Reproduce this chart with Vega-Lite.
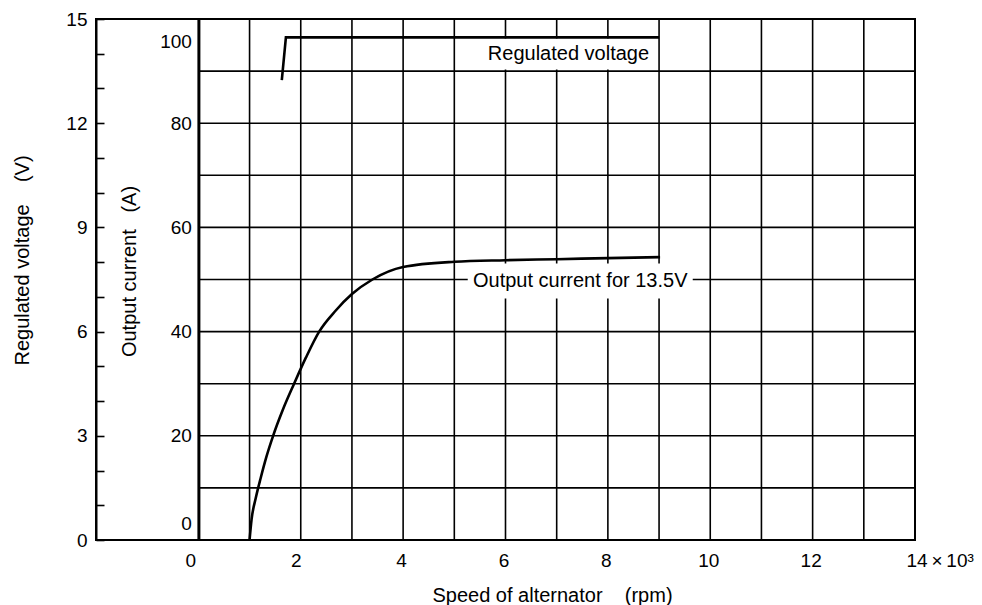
{
  "$schema": "https://vega.github.io/schema/vega-lite/v6.json",
  "width": 819,
  "height": 521,
  "autosize": {"type": "none"},
  "padding": {"left": 96, "top": 19, "right": 67, "bottom": 65},
  "background": "white",
  "config": {
    "view": {"stroke": "black", "strokeWidth": 2},
    "font": "Liberation Sans",
    "axis": {
      "labelFont": "Liberation Sans",
      "titleFont": "Liberation Sans",
      "labelFontSize": 19,
      "titleFontSize": 20,
      "titleFontWeight": "normal",
      "labelColor": "black",
      "titleColor": "black",
      "labelOverlap": false,
      "labelFlush": false,
      "grid": false
    }
  },
  "datasets": {
    "gridV": [
      {"rpm": 1}, {"rpm": 2}, {"rpm": 3}, {"rpm": 4}, {"rpm": 5}, {"rpm": 6}, {"rpm": 7},
      {"rpm": 8}, {"rpm": 9}, {"rpm": 10}, {"rpm": 11}, {"rpm": 12}, {"rpm": 13}
    ],
    "gridH": [
      {"amps": 10}, {"amps": 20}, {"amps": 30}, {"amps": 40}, {"amps": 50},
      {"amps": 60}, {"amps": 70}, {"amps": 80}, {"amps": 90}
    ],
    "current": [
      {"rpm": 1.0, "amps": 0},
      {"rpm": 1.04, "amps": 4},
      {"rpm": 1.12, "amps": 8},
      {"rpm": 1.22, "amps": 12},
      {"rpm": 1.33, "amps": 16},
      {"rpm": 1.46, "amps": 20},
      {"rpm": 1.65, "amps": 25},
      {"rpm": 1.87, "amps": 30},
      {"rpm": 2.1, "amps": 35},
      {"rpm": 2.36, "amps": 40},
      {"rpm": 2.68, "amps": 44},
      {"rpm": 3.0, "amps": 47.2},
      {"rpm": 3.4, "amps": 50},
      {"rpm": 4.0, "amps": 52.4},
      {"rpm": 5.0, "amps": 53.4},
      {"rpm": 6.0, "amps": 53.7},
      {"rpm": 7.0, "amps": 53.9},
      {"rpm": 8.0, "amps": 54.1},
      {"rpm": 9.02, "amps": 54.3}
    ],
    "voltage": [
      {"rpm": 1.63, "volts": 13.24},
      {"rpm": 1.71, "volts": 14.47},
      {"rpm": 9.0, "volts": 14.47}
    ],
    "currentLabel": [
      {"rpm": 7.46, "amps": 49.7, "text": "Output current for 13.5V"}
    ],
    "voltageLabel": [
      {"rpm": 7.23, "volts": 13.99, "text": "Regulated voltage"}
    ]
  },
  "layer": [
    {
      "layer": [
        {
          "data": {"name": "gridV"},
          "mark": {"type": "rule", "color": "black", "strokeWidth": 1.6},
          "encoding": {
            "x": {"field": "rpm", "type": "quantitative", "scale": {"domain": [-2, 14], "nice": false, "zero": false},
              "axis": {"orient": "bottom", "title": "Speed of alternator\u00a0\u00a0\u00a0\u00a0(rpm)", "titleX": 456, "values": [0, 2, 4, 6, 8, 10, 12, 14], "labelExpr": "datum.value == 14 ? '14\u2009×\u200910³' : datum.label", "labelAlign": {"condition": {"test": "datum.value == 14", "value": "left"}, "value": "center"}, "labelOffset": {"condition": [{"test": "datum.value == 14", "value": -9}, {"test": "datum.value == 0", "value": -8}, {"test": "datum.value == 2", "value": -5}], "value": -2}, "labelOverlap": false, "labelFlush": false, "domain": false, "ticks": false, "labelPadding": 11, "titlePadding": 15}}
          }
        },
        {
          "data": {"name": "gridH"},
          "mark": {"type": "rule", "color": "black", "strokeWidth": 1.6},
          "encoding": {
            "x": {"datum": 0, "type": "quantitative", "scale": {"domain": [-2, 14], "nice": false, "zero": false},
              "axis": {"orient": "bottom", "title": "Speed of alternator\u00a0\u00a0\u00a0\u00a0(rpm)", "titleX": 456, "values": [0, 2, 4, 6, 8, 10, 12, 14], "labelExpr": "datum.value == 14 ? '14\u2009×\u200910³' : datum.label", "labelAlign": {"condition": {"test": "datum.value == 14", "value": "left"}, "value": "center"}, "labelOffset": {"condition": [{"test": "datum.value == 14", "value": -9}, {"test": "datum.value == 0", "value": -8}, {"test": "datum.value == 2", "value": -5}], "value": -2}, "labelOverlap": false, "labelFlush": false, "domain": false, "ticks": false, "labelPadding": 11, "titlePadding": 15}},
            "x2": {"datum": 14},
            "y": {
              "field": "amps",
              "type": "quantitative",
              "scale": {"domain": [0, 100], "nice": false},
              "axis": {
                "orient": "left",
                "offset": -102.4,
                "title": "Output current\u00a0\u00a0\u00a0(A)",
                "titleY": 252,
                "values": [0, 20, 40, 60, 80, 100],
                "labelOverlap": false,
                "domain": true,
                "domainColor": "black",
                "domainWidth": 3,
                "ticks": false,
                "labelPadding": 7,
                "labelOffset": {"condition": [{"test": "datum.value == 100", "value": 22}, {"test": "datum.value == 0", "value": -17}], "value": 0},
                "titlePadding": 20
              }
            }
          }
        },
        {
          "data": {"name": "currentLabel"},
          "mark": {"type": "point", "shape": "M-1,-0.1556L1,-0.1556L1,0.1556L-1,0.1556Z", "filled": true, "color": "white", "opacity": 1, "size": 50625, "strokeWidth": 0},
          "encoding": {
            "x": {"field": "rpm", "type": "quantitative", "scale": {"domain": [-2, 14], "nice": false, "zero": false},
              "axis": {"orient": "bottom", "title": "Speed of alternator\u00a0\u00a0\u00a0\u00a0(rpm)", "titleX": 456, "values": [0, 2, 4, 6, 8, 10, 12, 14], "labelExpr": "datum.value == 14 ? '14\u2009×\u200910³' : datum.label", "labelAlign": {"condition": {"test": "datum.value == 14", "value": "left"}, "value": "center"}, "labelOffset": {"condition": [{"test": "datum.value == 14", "value": -9}, {"test": "datum.value == 0", "value": -8}, {"test": "datum.value == 2", "value": -5}], "value": -2}, "labelOverlap": false, "labelFlush": false, "domain": false, "ticks": false, "labelPadding": 11, "titlePadding": 15}},
            "y": {"field": "amps", "type": "quantitative", "scale": {"domain": [0, 100], "nice": false}}
          }
        },
        {
          "data": {"name": "current"},
          "mark": {"type": "line", "color": "black", "strokeWidth": 2.6, "interpolate": "monotone"},
          "encoding": {
            "x": {"field": "rpm", "type": "quantitative", "scale": {"domain": [-2, 14], "nice": false, "zero": false},
              "axis": {"orient": "bottom", "title": "Speed of alternator\u00a0\u00a0\u00a0\u00a0(rpm)", "titleX": 456, "values": [0, 2, 4, 6, 8, 10, 12, 14], "labelExpr": "datum.value == 14 ? '14\u2009×\u200910³' : datum.label", "labelAlign": {"condition": {"test": "datum.value == 14", "value": "left"}, "value": "center"}, "labelOffset": {"condition": [{"test": "datum.value == 14", "value": -9}, {"test": "datum.value == 0", "value": -8}, {"test": "datum.value == 2", "value": -5}], "value": -2}, "labelOverlap": false, "labelFlush": false, "domain": false, "ticks": false, "labelPadding": 11, "titlePadding": 15}},
            "y": {"field": "amps", "type": "quantitative", "scale": {"domain": [0, 100], "nice": false}}
          }
        },
        {
          "data": {"name": "currentLabel"},
          "mark": {"type": "text", "fontSize": 20, "font": "Liberation Sans", "color": "black", "align": "center", "baseline": "middle"},
          "encoding": {
            "x": {"field": "rpm", "type": "quantitative", "scale": {"domain": [-2, 14], "nice": false, "zero": false},
              "axis": {"orient": "bottom", "title": "Speed of alternator\u00a0\u00a0\u00a0\u00a0(rpm)", "titleX": 456, "values": [0, 2, 4, 6, 8, 10, 12, 14], "labelExpr": "datum.value == 14 ? '14\u2009×\u200910³' : datum.label", "labelAlign": {"condition": {"test": "datum.value == 14", "value": "left"}, "value": "center"}, "labelOffset": {"condition": [{"test": "datum.value == 14", "value": -9}, {"test": "datum.value == 0", "value": -8}, {"test": "datum.value == 2", "value": -5}], "value": -2}, "labelOverlap": false, "labelFlush": false, "domain": false, "ticks": false, "labelPadding": 11, "titlePadding": 15}},
            "y": {"field": "amps", "type": "quantitative", "scale": {"domain": [0, 100], "nice": false}},
            "text": {"field": "text"}
          }
        }
      ]
    },
    {
      "layer": [
        {
          "data": {"name": "voltageLabel"},
          "mark": {"type": "point", "shape": "M-1,-0.174L1,-0.174L1,0.174L-1,0.174Z", "filled": true, "color": "white", "opacity": 1, "size": 31684, "strokeWidth": 0},
          "encoding": {
            "x": {"field": "rpm", "type": "quantitative", "scale": {"domain": [-2, 14], "nice": false, "zero": false},
              "axis": {"orient": "bottom", "title": "Speed of alternator\u00a0\u00a0\u00a0\u00a0(rpm)", "titleX": 456, "values": [0, 2, 4, 6, 8, 10, 12, 14], "labelExpr": "datum.value == 14 ? '14\u2009×\u200910³' : datum.label", "labelAlign": {"condition": {"test": "datum.value == 14", "value": "left"}, "value": "center"}, "labelOffset": {"condition": [{"test": "datum.value == 14", "value": -9}, {"test": "datum.value == 0", "value": -8}, {"test": "datum.value == 2", "value": -5}], "value": -2}, "labelOverlap": false, "labelFlush": false, "domain": false, "ticks": false, "labelPadding": 11, "titlePadding": 15}},
            "y": {
              "field": "volts",
              "type": "quantitative",
              "scale": {"domain": [0, 15], "nice": false},
              "axis": {
                "orient": "left",
                "title": "Regulated voltage\u00a0\u00a0\u00a0\u00a0(V)",
                "titleY": 241,
                "values": [0, 1, 2, 3, 4, 5, 6, 7, 8, 9, 10, 11, 12, 13, 14, 15],
                "tickCount": 30,
                "format": "d",
                "labelExpr": "datum.value % 3 == 0 ? datum.label : ''",
                "labelOverlap": false,
                "domain": true,
                "domainColor": "black",
                "domainWidth": 2,
                "ticks": true,
                "tickColor": "black",
                "tickWidth": 1.6,
                "tickSize": -8,
                "labelPadding": 17,
                "titlePadding": 33
              }
            }
          }
        },
        {
          "data": {"name": "voltage"},
          "mark": {"type": "line", "color": "black", "strokeWidth": 2.6},
          "encoding": {
            "x": {"field": "rpm", "type": "quantitative", "scale": {"domain": [-2, 14], "nice": false, "zero": false},
              "axis": {"orient": "bottom", "title": "Speed of alternator\u00a0\u00a0\u00a0\u00a0(rpm)", "titleX": 456, "values": [0, 2, 4, 6, 8, 10, 12, 14], "labelExpr": "datum.value == 14 ? '14\u2009×\u200910³' : datum.label", "labelAlign": {"condition": {"test": "datum.value == 14", "value": "left"}, "value": "center"}, "labelOffset": {"condition": [{"test": "datum.value == 14", "value": -9}, {"test": "datum.value == 0", "value": -8}, {"test": "datum.value == 2", "value": -5}], "value": -2}, "labelOverlap": false, "labelFlush": false, "domain": false, "ticks": false, "labelPadding": 11, "titlePadding": 15}},
            "y": {"field": "volts", "type": "quantitative", "scale": {"domain": [0, 15], "nice": false}}
          }
        },
        {
          "data": {"name": "voltageLabel"},
          "mark": {"type": "text", "fontSize": 20, "font": "Liberation Sans", "color": "black", "align": "center", "baseline": "middle"},
          "encoding": {
            "x": {"field": "rpm", "type": "quantitative", "scale": {"domain": [-2, 14], "nice": false, "zero": false},
              "axis": {"orient": "bottom", "title": "Speed of alternator\u00a0\u00a0\u00a0\u00a0(rpm)", "titleX": 456, "values": [0, 2, 4, 6, 8, 10, 12, 14], "labelExpr": "datum.value == 14 ? '14\u2009×\u200910³' : datum.label", "labelAlign": {"condition": {"test": "datum.value == 14", "value": "left"}, "value": "center"}, "labelOffset": {"condition": [{"test": "datum.value == 14", "value": -9}, {"test": "datum.value == 0", "value": -8}, {"test": "datum.value == 2", "value": -5}], "value": -2}, "labelOverlap": false, "labelFlush": false, "domain": false, "ticks": false, "labelPadding": 11, "titlePadding": 15}},
            "y": {"field": "volts", "type": "quantitative", "scale": {"domain": [0, 15], "nice": false}},
            "text": {"field": "text"}
          }
        }
      ]
    }
  ],
  "resolve": {"scale": {"y": "independent"}, "axis": {"y": "independent"}}
}
